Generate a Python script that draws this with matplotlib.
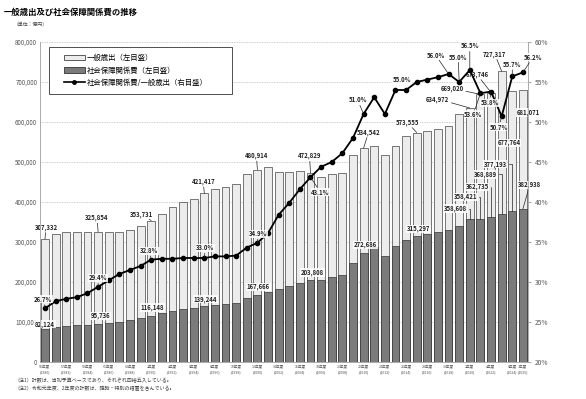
import numpy as np
import matplotlib
matplotlib.use('Agg')
import matplotlib.pyplot as plt
from matplotlib.patches import Patch, Rectangle
from matplotlib.lines import Line2D

plt.rcParams['font.family'] = ['Noto Sans CJK JP', 'DejaVu Sans']

# --- data (億円, %) ---
years = list(range(1980, 2026))
general = [307332, 320400, 326200, 326195, 325857, 325854, 325842, 325834, 329821, 340805,
           353731, 370365, 386988, 399168, 408548, 421417, 431409, 438067, 445362, 468878,
           480914, 486589, 475472, 475922, 476320, 472829, 463660, 469784, 472845, 517310,
           534542, 540780, 517957, 539774, 564697, 573555, 578286, 583591, 588958, 619639,
           634972, 669020, 673746, 727317, 677764, 681071]
social = [82124, 88369, 90848, 91398, 93211, 95736, 98346, 100896, 103845, 108947,
          116148, 122005, 127412, 131857, 134816, 139244, 143014, 145501, 148431, 160950,
          167666, 175552, 182795, 189907, 197970, 203808, 205739, 211409, 217824, 248344,
          272686, 287079, 263901, 291224, 305175, 315297, 319738, 324735, 329732, 340593,
          358608, 358421, 362735, 368889, 377193, 382938]
ratio = [26.7, 27.6, 27.9, 28.1, 28.6, 29.4, 30.2, 31.0, 31.5, 32.0,
         32.8, 32.9, 32.9, 33.0, 33.0, 33.0, 33.2, 33.2, 33.3, 34.3,
         34.9, 36.1, 38.4, 39.9, 41.6, 43.1, 44.4, 45.0, 46.1, 48.0,
         51.0, 53.1, 51.0, 54.0, 54.0, 55.0, 55.3, 55.6, 56.0, 55.0,
         56.5, 53.6, 53.8, 50.7, 55.7, 56.2]

tick_years = [1980, 1982, 1984, 1986, 1988, 1990, 1992, 1994, 1996, 1998, 2000, 2002,
              2004, 2006, 2008, 2010, 2012, 2014, 2016, 2018, 2020, 2022, 2024, 2025]
tick_era = ['55', '57', '59', '61', '63', '2', '4', '6', '8', '10', '12', '14',
            '16', '18', '20', '22', '24', '26', '28', '30', '2', '4', '6', '7']

# labelled points: year -> (dx, dy) offset in px from the mark
gen_lab = {1980: (1, 12), 1985: (-1, 14), 1990: (-10, 6), 1995: (-1, 12), 2000: (-1, 14),
           2005: (-1, 17), 2010: (5, 16), 2015: (-9, 10), 2020: (-32, 9), 2021: (-28, 6),
           2022: (-14, 18), 2023: (-7, 17), 2024: (-3, -52), 2025: (5, -23)}
soc_lab = {1980: (0, 5), 1985: (2, 8), 1990: (1, 8), 1995: (1, 7), 2000: (1, 8),
           2005: (2, 8), 2010: (2, 8), 2015: (2, 7), 2020: (-14, 10), 2021: (-15, 22),
           2022: (-14, 30), 2023: (-16, 40), 2024: (-17, 47), 2025: (7, 24)}
rat_lab = {1980: (-2, 9), 1985: (0, 9), 1990: (-2, 9), 1995: (1, 10), 2000: (1, 9),
           2005: (10, -15), 2010: (-6, 14), 2015: (-15, 2), 2018: (-13, 19), 2019: (-1, 25),
           2020: (0, 24), 2021: (-7, -21), 2022: (-1, -11), 2023: (-3, -11), 2024: (0, 12),
           2025: (10, 15)}
no_line = {('g', 2024), ('g', 2025), ('r', 2015)}
elbow = {2020, 2021, 2022, 2023, 2024}

x = np.arange(len(years))
P = 0.72  # px -> pt at dpi 100

fig = plt.figure(figsize=(5.86, 3.99), dpi=100)
ax = fig.add_axes([40/586, 1-362/399, 488/586, 320/399])
ax2 = ax.twinx()

ax.bar(x, general, width=0.74, color='#ececec', edgecolor='#444', lw=0.5, zorder=2)
ax.bar(x, social, width=0.74, color='#7b7b7b', edgecolor='#333', lw=0.5, zorder=3)
ax2.plot(x, ratio, '-o', color='black', lw=1.3, ms=3, zorder=5)

ax.set_xlim(-0.47, 45.48)
ax.set_ylim(0, 800000)
ax2.set_ylim(20, 60)
ax.set_yticks(range(0, 800001, 100000))
ax.set_yticklabels(['0'] + [f'{v:,}' for v in range(100000, 800001, 100000)], fontsize=4.5, color='#555')
ax2.set_yticks(range(20, 61, 5))
ax2.set_yticklabels([f'{v}%' for v in range(20, 61, 5)], fontsize=4.8, color='#555')
ax.set_xticks([years.index(y) for y in tick_years])
ax.set_xticklabels([f'{e}年度\n({y})' for e, y in zip(tick_era, tick_years)], fontsize=2.6,
                   color='#555', linespacing=1.6)
ax.tick_params(axis='both', length=0, pad=2)
ax2.tick_params(axis='y', length=2, color='#aaa', pad=3)
ax.grid(axis='y', color='#bbb', lw=0.6, ls=(0, (1, 1)), zorder=0)
ax.set_axisbelow(True)
for a in (ax, ax2):
    a.spines['top'].set_visible(False)
    for s in ('left', 'right', 'bottom'):
        a.spines[s].set_color('#aaa')
        a.spines[s].set_linewidth(0.6)

def lab(a, i, y, txt, off, line=True, el=False):
    ap = None
    if line:
        cs = 'angle,angleA=0,angleB=90,rad=0' if el else 'arc3'
        ap = dict(arrowstyle='-', color='#222', lw=0.5, shrinkA=1, shrinkB=0, connectionstyle=cs)
    a.annotate(txt, (i, y), xytext=(off[0]*P, off[1]*P), textcoords='offset points',
               ha='center', va='center', fontsize=4.3, fontweight='bold', color='#222',
               arrowprops=ap, zorder=6,
               bbox=dict(boxstyle='square,pad=0.1', fc='white', ec='none', alpha=0.85))

for yr, off in gen_lab.items():
    i = years.index(yr)
    lab(ax, i, general[i], f'{general[i]:,}', off, line=('g', yr) not in no_line)
for yr, off in soc_lab.items():
    i = years.index(yr)
    lab(ax, i, social[i], f'{social[i]:,}', off, line=yr >= 2020, el=yr in elbow)
for yr, off in rat_lab.items():
    i = years.index(yr)
    lab(ax2, i, ratio[i], f'{ratio[i]:.1f}%', off, line=('r', yr) not in no_line)

# legend: frame drawn separately so it can be wider than the entries
ax2.add_patch(Rectangle((49/586, 1-94/399), 183/586, 47/399, transform=fig.transFigure,
                        fc='white', ec='#333', lw=0.6, zorder=4, clip_on=False))
handles = [Patch(fc='#ececec', ec='#444', lw=0.6), Patch(fc='#7b7b7b', ec='#333', lw=0.6),
           Line2D([], [], color='black', marker='o', ms=2.5, lw=1.2)]
names = ['一般歳出（左目盛）', '社会保障関係費（左目盛）', '社会保障関係費/一般歳出（右目盛）']
leg = ax2.legend(handles, names, loc='center left', bbox_to_anchor=(64/586, 1-70.5/399),
                 bbox_transform=fig.transFigure, fontsize=5.3, frameon=False,
                 handlelength=2.8, handleheight=0.7, borderpad=0,
                 labelspacing=0.6, borderaxespad=0, handletextpad=0.3)
leg.set_zorder(10)

fig.text(4/586, 1-12/399, '一般歳出及び社会保障関係費の推移', fontsize=6, fontweight='bold', va='center')
fig.text(14/586, 1-24/399, '（単位：億円）', fontsize=3.5, color='#444', va='center')
fig.text(14/586, 1-381/399, '（注1）計数は、当初予算ベースであり、それぞれ四捨五入している。',
         fontsize=3.6, color='#444', va='center')
fig.text(14/586, 1-389/399, '（注2）令和元年度、2年度の計数は、臨時・特別の措置を含んでいる。',
         fontsize=3.6, color='#444', va='center')

fig.savefig('out.png', dpi=100)
